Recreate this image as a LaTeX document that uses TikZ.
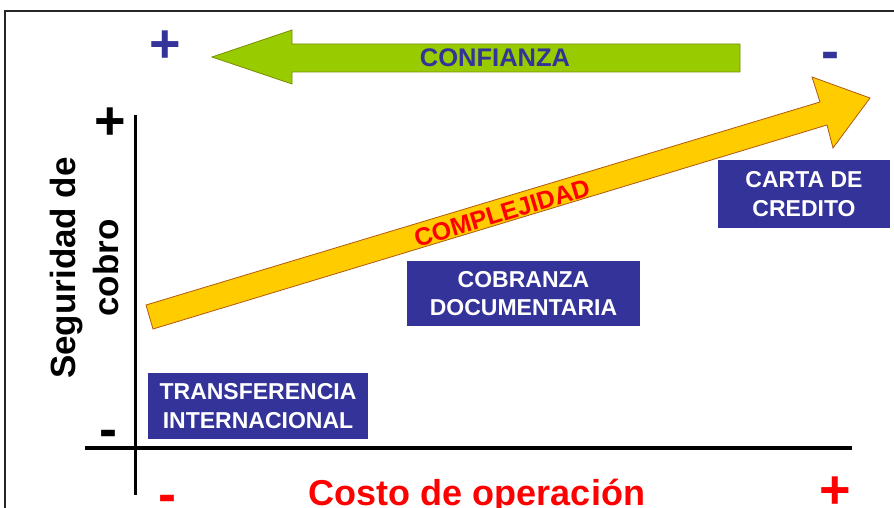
\documentclass[tikz,border=0pt]{standalone}
\usepackage{fontspec}
\setmainfont{Liberation Sans}
\definecolor{boxblue}{HTML}{333399}
\definecolor{signblue}{HTML}{333399}
\definecolor{greenfill}{HTML}{99CC00}
\definecolor{greenline}{HTML}{7A8C00}
\definecolor{yellowfill}{HTML}{FFCC00}
\definecolor{yellowline}{HTML}{B05A10}
\definecolor{redtext}{HTML}{FF0000}
\begin{document}
\begin{tikzpicture}[x=1pt,y=-1pt,
  box/.style={fill=boxblue, text=white, font=\bfseries\fontsize{23}{28.5}\selectfont, align=center, inner sep=0pt},
  sign/.style={font=\bfseries\fontsize{54}{54}\selectfont, inner sep=0pt},
  axisline/.style={black, line width=3.5pt},
]
\useasboundingbox (0,0) rectangle (894,508);
% frame
\draw[line width=2pt, black!85] (5,508) -- (5,11) -- (894,11);

% axes
\coordinate (ytop) at (135,115);
\coordinate (ybot) at (135,495);
\coordinate (xleft) at (85,448);
\coordinate (xright) at (852,448);
\draw[axisline, line width=3pt] (ytop) -- (ybot);
\draw[axisline, line width=4pt] (xleft) -- (xright);

% green arrow (confianza)
\draw[fill=greenfill, draw=greenline, line width=0.8pt, line join=miter]
  (212,57) -- (292,30) -- (292,44) -- (740,44) -- (740,72) -- (292,72) -- (292,84) -- cycle;
\node[font=\bfseries\fontsize{25.5}{25.5}\selectfont, text=signblue, inner sep=0pt] (conf) at (495,58) {CONFIANZA};

% yellow arrow (complejidad)
\draw[fill=yellowfill, draw=yellowline, line width=0.8pt, line join=miter]
  (146,305) -- (820,102) -- (812,77) -- (870,98) -- (833,148) -- (827,125) -- (153,329) -- cycle;
\node[font=\bfseries\fontsize{25}{25}\selectfont, text=redtext, inner sep=0pt, rotate=16.8] (compl) at (502,213) {COMPLEJIDAD};

% signs
\node[sign, text=signblue] (pluscf) at (165,47) {+};
\node[sign, text=signblue] (minuscf) at (830,61) {-};
\node[sign, text=black] (plusy) at (110,124) {+};
\node[sign, text=black] (minusy) at (108,439) {-};
\node[sign, text=redtext] (minusx) at (167,504) {-};
\node[sign, text=redtext] (plusx) at (835,493) {+};

% axis labels
\node[font=\bfseries\fontsize{35}{43}\selectfont, align=center, rotate=90, inner sep=0pt] (ylab) at (84,268) {Seguridad de\\cobro};
\node[font=\bfseries\fontsize{36}{36}\selectfont, text=redtext, inner sep=0pt, anchor=base] (xlab) at (477,505) {Costo de operación};

% boxes
\node[box, minimum width=172pt, minimum height=68pt] (carta) at (804,194) {CARTA DE\\CREDITO};
\node[box, minimum width=233pt, minimum height=65pt] (cobr) at (523.5,293.5) {COBRANZA\\DOCUMENTARIA};
\node[box, minimum width=220pt, minimum height=66pt] (transf) at (258,406) {TRANSFERENCIA\\INTERNACIONAL};
\end{tikzpicture}
\end{document}
